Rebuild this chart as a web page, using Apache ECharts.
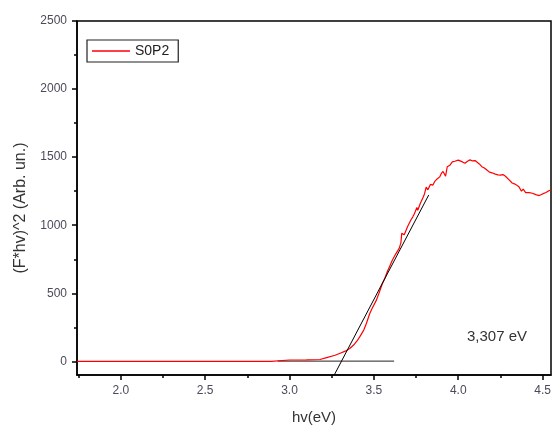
<!DOCTYPE html>
<html><head><meta charset="utf-8">
<script src="https://cdn.jsdelivr.net/npm/echarts@6/dist/echarts.min.js"></script>
<style>html,body{margin:0;padding:0;background:#fff}#c{width:552px;height:427px}</style>
</head><body><div id="c"></div>
<script>
const xTicks = [2.0, 2.5, 3.0, 3.5, 4.0, 4.5];
const xMinorTicks = [1.75, 2.25, 2.75, 3.25, 3.75, 4.25];
const yTicks = [0, 500, 1000, 1500, 2000, 2500];
const yMinorTicks = [250, 750, 1250, 1750, 2250];
const seriesName = 'S0P2';
const hv = [1.74,2.0,2.5,2.89,2.895,3.0,3.1,3.18,3.22,3.27,3.30,3.33,3.357,3.38,3.40,3.416,3.44,3.456,3.475,3.49,3.515,3.53,3.55,3.565,3.58,3.61,3.63,3.65,3.66,3.665,3.68,3.70,3.72,3.73,3.74,3.755,3.76,3.775,3.79,3.80,3.81,3.82,3.835,3.85,3.86,3.875,3.89,3.90,3.91,3.92,3.925,3.935,3.95,3.965,3.98,3.99,4.0,4.01,4.025,4.04,4.055,4.07,4.085,4.10,4.11,4.125,4.14,4.155,4.17,4.185,4.20,4.22,4.235,4.25,4.265,4.28,4.30,4.32,4.34,4.36,4.375,4.385,4.40,4.42,4.44,4.46,4.48,4.50,4.52,4.54,4.55];
const fhv2 = [0,0,0,0,10,10,11,14,28,45,60,75,95,120,150,180,230,280,350,390,450,500,570,610,660,745,790,830,870,940,930,990,1040,1060,1085,1130,1110,1160,1200,1230,1280,1260,1300,1295,1320,1340,1355,1380,1395,1405,1360,1430,1440,1465,1470,1460,1478,1487,1465,1455,1470,1480,1472,1475,1465,1450,1430,1420,1405,1390,1385,1375,1370,1368,1372,1360,1335,1310,1300,1282,1250,1265,1240,1240,1235,1225,1218,1230,1240,1255,1258];
const baseX = [2.93, 3.62];
const baseY = [2, 2];
const tanX = [3.265, 3.825];
const tanY = [-100, 1222];
const annotation = '3,307 eV';
const yTitle = '(F*hv)^2 (Arb. un.)';

const chart = echarts.init(document.getElementById('c'));
const labelColor = '#4a4a5a';
const font = 'Liberation Sans, Arial, sans-serif';
chart.setOption({
  animation: false,
  grid: {left: 77, top: 21, right: 1, bottom: 52, show: true, borderColor: '#000', borderWidth: 1.5, containLabel: false, outerBoundsMode: 'none'},
  legend: {
    show: true, left: 87, top: 40, orient: 'vertical',
    data: [{name: seriesName, icon: 'rect'}],
    borderColor: '#222', borderWidth: 1.2, padding: [4, 9, 4, 5],
    itemWidth: 38, itemHeight: 1.5, itemGap: 0,
    textStyle: {fontFamily: font, fontSize: 14, color: '#222'}
  },
  xAxis: [{
    type: 'value', min: 1.74, max: 4.55,
    name: 'hv(eV)', nameLocation: 'middle', nameGap: 35,
    nameTextStyle: {fontFamily: font, fontSize: 15, color: '#333'},
    axisLine: {show: true, onZero: false, lineStyle: {color: '#000', width: 1.5}},
    axisTick: {show: true, customValues: xTicks, length: 5, inside: false, lineStyle: {color: '#000', width: 1.5}},
    axisLabel: {customValues: xTicks, formatter: v => v.toFixed(1), margin: 10, fontFamily: font, fontSize: 12, color: labelColor},
    splitLine: {show: false}
  }, {
    type: 'value', min: 1.74, max: 4.55, position: 'bottom',
    axisLine: {show: false, onZero: false},
    axisTick: {show: true, customValues: xMinorTicks, length: 3, lineStyle: {color: '#000', width: 1.5}},
    axisLabel: {show: false}, splitLine: {show: false}
  }],
  yAxis: [{
    type: 'value', min: -100, max: 2500,
    axisLine: {show: true, onZero: false, lineStyle: {color: '#000', width: 1.5}},
    axisTick: {show: true, customValues: yTicks, length: 5, lineStyle: {color: '#000', width: 1.5}},
    axisLabel: {customValues: yTicks, formatter: v => String(v), margin: 10, fontFamily: font, fontSize: 12, color: labelColor},
    splitLine: {show: false}
  }, {
    type: 'value', min: -100, max: 2500, position: 'left',
    axisLine: {show: false, onZero: false},
    axisTick: {show: true, customValues: yMinorTicks, length: 3, lineStyle: {color: '#000', width: 1.5}},
    axisLabel: {show: false}, splitLine: {show: false}
  }],
  series: [{
    name: seriesName, type: 'line', showSymbol: false, symbol: 'none',
    data: hv.map((x, i) => [x, fhv2[i]]),
    lineStyle: {color: '#ff0000', width: 1.2}, itemStyle: {color: '#ff0000'}, z: 3
  }, {
    name: 'baseline', type: 'line', symbol: 'none',
    data: baseX.map((x, i) => [x, baseY[i]]),
    lineStyle: {color: '#222', width: 1}, z: 2
  }, {
    name: 'tangent', type: 'line', symbol: 'none',
    data: tanX.map((x, i) => [x, tanY[i]]),
    lineStyle: {color: '#000', width: 1}, z: 4
  }],
  graphic: [{
    type: 'text', left: 467, top: 329,
    style: {text: annotation, font: '15px Liberation Sans, Arial, sans-serif', fill: '#333'}
  }, {
    type: 'text', x: 21, y: 208, rotation: Math.PI / 2,
    style: {text: yTitle, font: '16px Liberation Sans, Arial, sans-serif', fill: '#333', align: 'center', verticalAlign: 'middle'}
  }]
});
</script></body></html>
